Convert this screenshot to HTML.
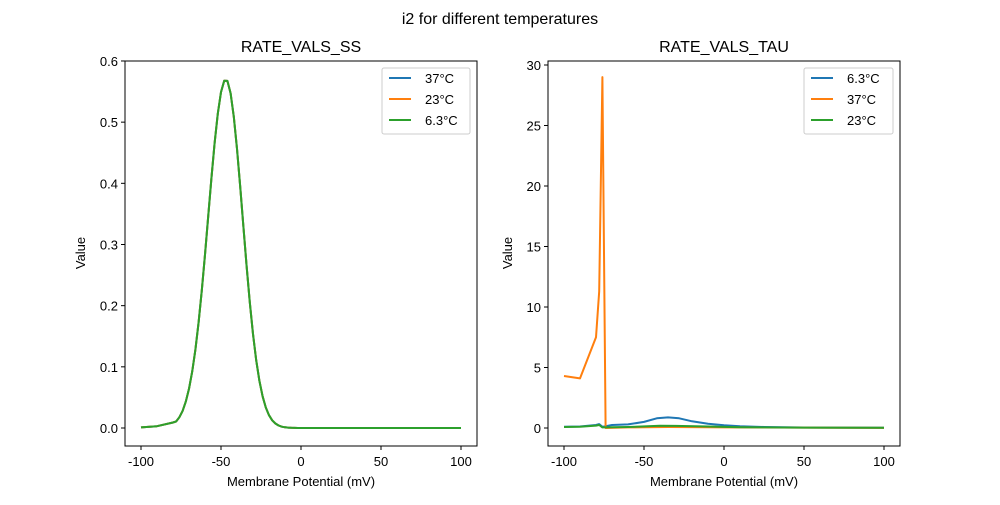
<!DOCTYPE html>
<html><head><meta charset="utf-8"><style>
body{margin:0;background:#fff;font-family:"Liberation Sans",sans-serif}
</style></head><body>
<svg id="s" width="1000" height="500" xmlns="http://www.w3.org/2000/svg" font-family="Liberation Sans, sans-serif" font-size="13">
<rect width="1000" height="500" fill="#fff"/>
<text x="500" y="24" text-anchor="middle" font-size="16">i2 for different temperatures</text>
<text x="301" y="52" text-anchor="middle" font-size="16">RATE_VALS_SS</text>
<text x="724" y="52" text-anchor="middle" font-size="16">RATE_VALS_TAU</text>
<g id="g"></g>
<rect x="125" y="61" width="352" height="385" fill="none" stroke="#000"/>
<rect x="548" y="61" width="352" height="385" fill="none" stroke="#000"/>
<text x="301" y="486" text-anchor="middle">Membrane Potential (mV)</text>
<text x="724" y="486" text-anchor="middle">Membrane Potential (mV)</text>
<text transform="translate(85,253) rotate(-90)" text-anchor="middle">Value</text>
<text transform="translate(512,253) rotate(-90)" text-anchor="middle">Value</text>
<g font-size="13">
<rect x="382" y="68" width="88" height="66" fill="#fff" stroke="#ccc" rx="2"/>
<line x1="389" y1="78" x2="411" y2="78" stroke="#1f77b4" stroke-width="2"/><text x="425" y="83">37°C</text>
<line x1="389" y1="99" x2="411" y2="99" stroke="#ff7f0e" stroke-width="2"/><text x="425" y="104">23°C</text>
<line x1="389" y1="120" x2="411" y2="120" stroke="#2ca02c" stroke-width="2"/><text x="425" y="125">6.3°C</text>
<rect x="804" y="68" width="89" height="66" fill="#fff" stroke="#ccc" rx="2"/>
<line x1="811" y1="78" x2="833" y2="78" stroke="#1f77b4" stroke-width="2"/><text x="847" y="83">6.3°C</text>
<line x1="811" y1="99" x2="833" y2="99" stroke="#ff7f0e" stroke-width="2"/><text x="847" y="104">37°C</text>
<line x1="811" y1="120" x2="833" y2="120" stroke="#2ca02c" stroke-width="2"/><text x="847" y="125">23°C</text>
</g>
</svg>
<script>
var g=document.getElementById('g'),N='http://www.w3.org/2000/svg';
function el(t,a,txt){var e=document.createElementNS(N,t);for(var k in a)e.setAttribute(k,a[k]);if(txt!=null)e.textContent=txt;g.appendChild(e);return e}
[-100,-50,0,50,100].forEach(function(v){
 [[141,125],[564,548]].forEach(function(o){var x=o[0]+(v+100)*1.6;el('line',{x1:x,x2:x,y1:446,y2:450,stroke:'#000'});el('text',{x:x,y:466,'text-anchor':'middle','font-size':13},v)});
});
for(var i=0;i<=6;i++){var y=428-i/10*611.7;el('line',{x1:121,x2:125,y1:y,y2:y,stroke:'#000'});el('text',{x:118,y:y+5,'text-anchor':'end','font-size':13},(i/10).toFixed(1))}
for(var i=0;i<=6;i++){var y=428-i*5*12.1;el('line',{x1:544,x2:548,y1:y,y2:y,stroke:'#000'});el('text',{x:541,y:y+5,'text-anchor':'end','font-size':13},i*5)}
function path(pts,ox,sy,col){var d=pts.map(function(p,i){return (i?'L':'M')+(ox+(p[0]+100)*1.6).toFixed(1)+' '+(428-p[1]*sy).toFixed(1)}).join(' ');el('path',{d:d,fill:'none',stroke:col,'stroke-width':2,'stroke-linejoin':'round'})}
var ss=[[-100,0.001],[-90,0.003]];for(var v=-80;v<=100;v+=2){var s=v<-47?11:10.5;var y=0.57*Math.exp(-Math.pow((v+47)/s,2)/2);if(v==-80)y=0.009;ss.push([v,y])}
['#1f77b4','#ff7f0e','#2ca02c'].forEach(function(c){path(ss,141,611.7,c)});
var blue=[[-100,0.1],[-90,0.12],[-80,0.25],[-78,0.32],[-76,0.1],[-74,0.15],[-70,0.25],[-60,0.3],[-50,0.5],[-42,0.8],[-35,0.88],[-28,0.8],[-20,0.55],[-10,0.35],[0,0.22],[10,0.15],[25,0.08],[50,0.04],[100,0.02]];
var green=[[-100,0.08],[-90,0.1],[-80,0.2],[-78,0.25],[-76,0.05],[-60,0.08],[-40,0.18],[-30,0.17],[-10,0.12],[10,0.07],[50,0.03],[100,0.02]];
var orange=[[-100,4.3],[-90,4.1],[-80,7.5],[-78,11.3],[-76,29],[-74,0.0],[-60,0.05],[-35,0.08],[0,0.05],[100,0.01]];
path(blue,564,12.1,'#1f77b4');path(orange,564,12.1,'#ff7f0e');path(green,564,12.1,'#2ca02c');
</script>
</body></html>
